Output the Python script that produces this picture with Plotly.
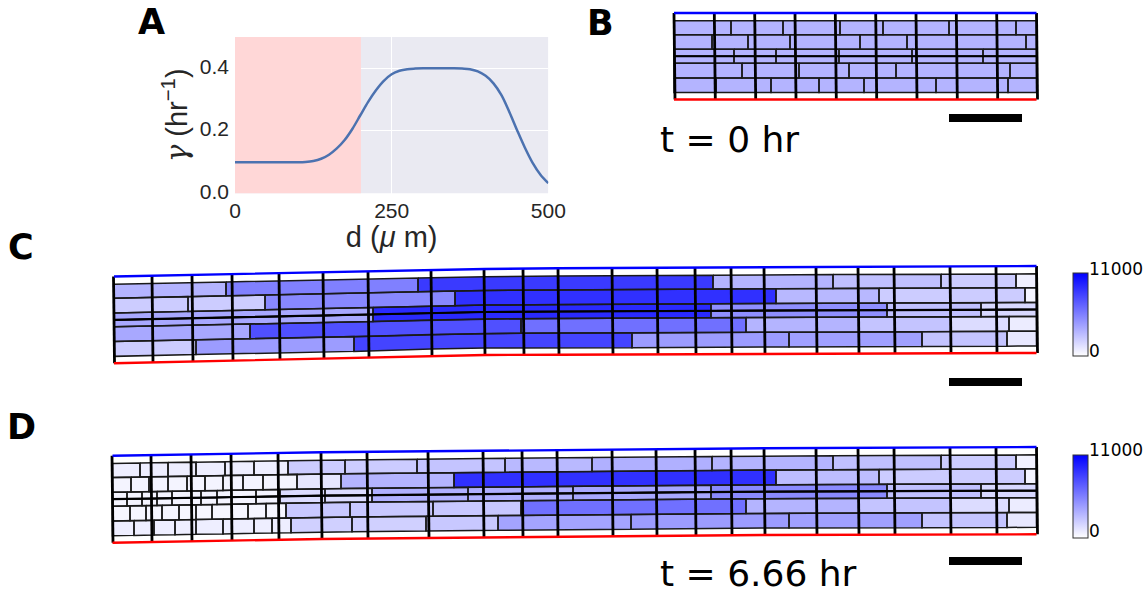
import plotly.graph_objects as go

# ---- Panel A: growth-rate curve ----
d_um = [0, 25, 50, 75, 100, 112.5, 125, 137.5, 150, 162.5, 175, 187.5, 200, 212.5, 225, 237.5, 250, 262.5, 275, 287.5, 300,
        325, 350, 362.5, 375, 387.5, 400, 412.5, 425, 437.5, 450, 462.5, 475, 487.5, 500]
gamma = [0.1, 0.1, 0.1, 0.1, 0.1, 0.101, 0.104, 0.111, 0.124, 0.144, 0.171, 0.207, 0.25, 0.293, 0.33, 0.36,
         0.381, 0.392, 0.397, 0.399, 0.4, 0.4, 0.4, 0.399, 0.397, 0.39, 0.376, 0.352, 0.315, 0.262, 0.203, 0.147, 0.098, 0.06, 0.033]

# ---- Tissue panels: row wall positions and cell intensities ----
row_fracs = [(0.09, 0.25), (0.25, 0.42), (0.42, 0.5), (0.5, 0.58), (0.58, 0.75), (0.75, 0.92)]

# panel B
B_walls = [674, 714.3, 754.7, 795, 835.3, 875.7, 916, 956.3, 996.7, 1036.5]
B_top_x, B_top_y = [674, 1036.5], [13, 13]
B_bot_x, B_bot_y = [674, 1036.5], [99.5, 99.5]
B_breaks = [
    [731, 783, 840, 883, 949, 1016],
    [712, 748, 790, 860, 907, 1026],
    [734, 776, 839, 912, 983],
    [734, 776, 839, 912, 983],
    [742, 799, 849, 896, 1010],
    [716, 771, 819, 864, 936, 1008],
]
B_values = [
    [3235] * 7,
    [3235] * 7,
    [3235] * 6,
    [3235] * 6,
    [3235] * 6,
    [3235] * 7,
]

# panel C
C_walls = [113.5, 152, 192, 232, 279, 323, 368, 431, 484, 523, 558, 612, 657, 695, 731, 764, 816, 858, 894, 950, 996, 1036.5]
C_top_x = [114, 233, 323, 368, 431, 485, 558, 612, 763, 1036.5]
C_top_y = [276.5, 274, 272.3, 271.3, 270, 269, 268.3, 268, 267, 266]
C_bot_x = [114, 233, 323, 368, 431, 485, 558, 612, 763, 1036.5]
C_bot_y = [363.3, 360.7, 359, 358, 356, 355, 354.7, 354.7, 354, 353]
C_breaks = [
    [226, 418, 713, 833, 941, 1016],
    [188, 265, 455, 776, 879, 1025],
    [373, 711, 887, 981],
    [373, 711, 887, 981],
    [250, 521, 746, 859, 951, 1009],
    [196, 354, 632, 789, 922, 1007],
]
C_values = [
    [3235, 5478, 8498, 3235, 2718, 2200, 647],
    [2200, 2200, 5134, 8929, 3063, 2200, 474],
    [3753, 9188, 4832, 2718, 1682],
    [3753, 9188, 4832, 2718, 1682],
    [3753, 7549, 6169, 3235, 2545, 1510, 820],
    [2200, 4271, 8067, 4271, 4098, 2545, 1000],
]

# panel D
D_walls = [112, 151, 191, 231, 278, 321, 367, 428, 483, 522, 557, 612, 656, 695, 731, 764, 816, 858, 894, 950, 996, 1036.5]
D_top_x = [112.5, 232, 322, 428, 557, 612, 763, 1036.5]
D_top_y = [455.7, 453.7, 452.3, 451.3, 450, 449.7, 448.3, 447]
D_bot_x = [112.5, 232, 322, 428, 557, 612, 763, 1036.5]
D_bot_y = [542.7, 540.7, 539, 538, 536.7, 536.3, 535, 534.3]
D_breaks = [
    [140, 168, 196, 225, 254, 288, 345, 417, 505, 592, 712, 833, 941, 1016],
    [131, 149, 168, 187, 205, 223, 243, 263, 297, 341, 454, 776, 879, 1025],
    [127, 142, 157, 172, 201, 217, 256, 280, 325, 372, 468, 573, 711, 887, 981],
    [127, 142, 157, 172, 201, 217, 256, 280, 325, 372, 468, 573, 711, 887, 981],
    [130, 146, 162, 179, 196, 212, 232, 248, 266, 286, 350, 433, 521, 746, 859, 951, 1009],
    [134, 154, 175, 196, 223, 254, 272, 291, 352, 426, 498, 631, 789, 922, 1007],
]
D_values = [
    [733, 733, 733, 733, 733, 733, 2200, 2200, 2545, 3000, 3408, 3235, 2718, 2200, 560],
    [474, 474, 474, 474, 474, 474, 474, 474, 474, 1079, 3235, 8929, 2847, 2200, 474],
    [474, 474, 474, 474, 474, 474, 474, 474, 1510, 1510, 3408, 3408, 3753, 5047, 2718, 1682],
    [474, 474, 474, 474, 474, 474, 474, 474, 1510, 1510, 3408, 3408, 3753, 5047, 2718, 1682],
    [390, 390, 390, 390, 390, 390, 390, 390, 390, 390, 2373, 2373, 2373, 6169, 3235, 2545, 1510, 820],
    [733, 733, 733, 733, 733, 733, 733, 733, 2027, 2027, 2373, 3926, 4271, 4098, 2545, 1000],
]

C_scale_y = 382
B_scale_y = 118
D_scale_y = 561
scale_x = [949, 1022]

VMAX = 11000


def interp(x, xs, ys):
    if x <= xs[0]:
        return ys[0]
    for i in range(len(xs) - 1):
        if x <= xs[i + 1]:
            t = (x - xs[i]) / (xs[i + 1] - xs[i])
            return ys[i] + t * (ys[i + 1] - ys[i])
    return ys[-1]


def colour(v):
    c = round(255 * (1 - v / VMAX))
    return f"rgb({c},{c},255)"


def ypos(u, f, tx, ty, bx, by):
    return interp(u, tx, ty) * (1 - f) + interp(u, bx, by) * f


def draw_panel(fig, walls, tx, ty, bx, by, breaks, values):
    x0, x1 = tx[0], tx[-1]
    knots = sorted(set(tx + bx))
    groups = {}
    wx, wy = [], []
    for (f0, f1), br, vals in zip(row_fracs, breaks, values):
        edges = [x0] + br + [x1]
        for a, b, v in zip(edges[:-1], edges[1:], vals):
            us = [a] + [k for k in knots if a < k < b] + [b]
            px = us + us[::-1] + [a]
            py = [ypos(u, f0, tx, ty, bx, by) for u in us] + \
                 [ypos(u, f1, tx, ty, bx, by) for u in us[::-1]] + [ypos(a, f0, tx, ty, bx, by)]
            g = groups.setdefault(v, ([], []))
            g[0].extend(px + [None])
            g[1].extend(py + [None])
            wx.extend(px + [None])
            wy.extend(py + [None])
    for v, (gx, gy) in groups.items():
        fig.add_trace(go.Scatter(x=gx, y=gy, mode="lines", fill="toself", fillcolor=colour(v),
                                 line=dict(width=0), hoverinfo="skip", showlegend=False))
    fig.add_trace(go.Scatter(x=wx, y=wy, mode="lines", line=dict(color="#1a1a1a", width=1.5),
                             hoverinfo="skip", showlegend=False))
    # centre line
    my = [ypos(u, 0.5, tx, ty, bx, by) for u in knots]
    fig.add_trace(go.Scatter(x=knots, y=my, mode="lines", line=dict(color="black", width=2.2),
                             hoverinfo="skip", showlegend=False))
    # vertical walls
    vx, vy = [], []
    for w in walls:
        vx.extend([w, w + 1.0, None])
        vy.extend([ypos(w, 0, tx, ty, bx, by), ypos(w, 1, tx, ty, bx, by), None])
    fig.add_trace(go.Scatter(x=vx, y=vy, mode="lines", line=dict(color="black", width=2.8),
                             hoverinfo="skip", showlegend=False))
    # boundaries
    fig.add_trace(go.Scatter(x=tx, y=ty, mode="lines", line=dict(color="#0000ff", width=2.4),
                             hoverinfo="skip", showlegend=False))
    fig.add_trace(go.Scatter(x=bx, y=by, mode="lines", line=dict(color="#ff0000", width=2.4),
                             hoverinfo="skip", showlegend=False))


fig = go.Figure()
draw_panel(fig, B_walls, B_top_x, B_top_y, B_bot_x, B_bot_y, B_breaks, B_values)
draw_panel(fig, C_walls, C_top_x, C_top_y, C_bot_x, C_bot_y, C_breaks, C_values)
draw_panel(fig, D_walls, D_top_x, D_top_y, D_bot_x, D_bot_y, D_breaks, D_values)

for sy in (B_scale_y, C_scale_y, D_scale_y):
    fig.add_trace(go.Scatter(x=scale_x, y=[sy, sy], mode="lines", line=dict(color="black", width=8),
                             hoverinfo="skip", showlegend=False))

# colour bars
for bar_top in (273, 455):
    fig.add_trace(go.Scatter(
        x=[None, None], y=[None, None], mode="markers", showlegend=False, hoverinfo="skip",
        marker=dict(color=[0, VMAX], cmin=0, cmax=VMAX, size=1,
                    colorscale=[[0, "#ffffff"], [1, "#0000ff"]], showscale=True,
                    colorbar=dict(thickness=14.5, thicknessmode="pixels", len=83, lenmode="pixels",
                                  x=1072.5 / 1147, xanchor="left", xpad=0, ypad=0,
                                  y=1 - bar_top / 589, yanchor="top", tickvals=[], showticklabels=False,
                                  outlinecolor="#333333", outlinewidth=1))))

# panel A
fig.add_trace(go.Scatter(x=d_um, y=gamma, mode="lines", xaxis="x2", yaxis="y2", showlegend=False,
                         line=dict(color="#4C72B0", width=2.5, shape="spline", smoothing=1), hoverinfo="skip"))

fig.add_shape(type="rect", xref="x2", yref="y2", x0=0, x1=201, y0=0, y1=0.5, layer="between",
              fillcolor="#FFD7D7", line=dict(width=0))

ann = []
for txt, x, y in [("A", 151, 22), ("B", 600.5, 23), ("C", 20.5, 247), ("D", 21.5, 427)]:
    ann.append(dict(text=f"<b>{txt}</b>", x=x, y=y, font=dict(family="DejaVu Sans", size=35, color="black")))
for txt, x, y in [("t = 0 hr", 729, 139), ("t = 6.66 hr", 758.5, 573)]:
    ann.append(dict(text=txt, x=x, y=y, font=dict(family="DejaVu Sans", size=36, color="black")))
for txt, x, y in [("11000", 1087, 268.5), ("0", 1087, 350.5), ("11000", 1087, 449.5), ("0", 1087, 530.5)]:
    ann.append(dict(text=txt, x=x, y=y, xanchor="left", font=dict(family="DejaVu Sans", size=17, color="black")))
for a in ann:
    a.setdefault("xanchor", "center")
    a.update(xref="x", yref="y", showarrow=False, yanchor="middle")

serif = 'style="font-family:DejaVu Serif"'
fig.update_layout(
    width=1147, height=589, autosize=False,
    margin=dict(l=0, r=0, t=0, b=0, autoexpand=False), paper_bgcolor="white", plot_bgcolor="rgba(0,0,0,0)",
    showlegend=False, annotations=ann,
    xaxis=dict(range=[0, 1147], domain=[0, 1], visible=False, fixedrange=True),
    yaxis=dict(range=[589, 0], domain=[0, 1], visible=False, fixedrange=True),
    xaxis2=dict(domain=[235 / 1147, 548.3 / 1147], range=[0, 500], anchor="y2", tickvals=[0, 250, 500],
                showgrid=True, gridcolor="white", gridwidth=1.3, zeroline=False, showline=False, ticks="",
                tickfont=dict(family="Liberation Sans", size=21, color="#262626"), ticklabelstandoff=2,
                title=dict(text='d (<i>μ</i> m)', font=dict(family="Liberation Sans", size=29, color="#262626"), standoff=3)),
    yaxis2=dict(domain=[1 - 193.5 / 589, 1 - 37 / 589], range=[0, 0.5], anchor="x2", tickvals=[0, 0.2, 0.4],
                tickformat=".1f", showgrid=True, gridcolor="white", gridwidth=1.3, zeroline=False, showline=False, ticks="",
                tickfont=dict(family="Liberation Sans", size=21, color="#262626"), ticklabelstandoff=5, ticklabelshift=-2,
                title=dict(text=f'<span {serif}><i>γ</i></span> (hr<sup>−1</sup>)',
                           font=dict(family="Liberation Sans", size=29, color="#262626"), standoff=3)),
)
fig.add_shape(type="rect", xref="x2", yref="y2", x0=0, x1=500, y0=0, y1=0.5, layer="below",
              fillcolor="#EAEAF2", line=dict(width=0))

fig.write_html("out.html", post_script="document.body.style.margin='0';", config=dict(displayModeBar=False))
